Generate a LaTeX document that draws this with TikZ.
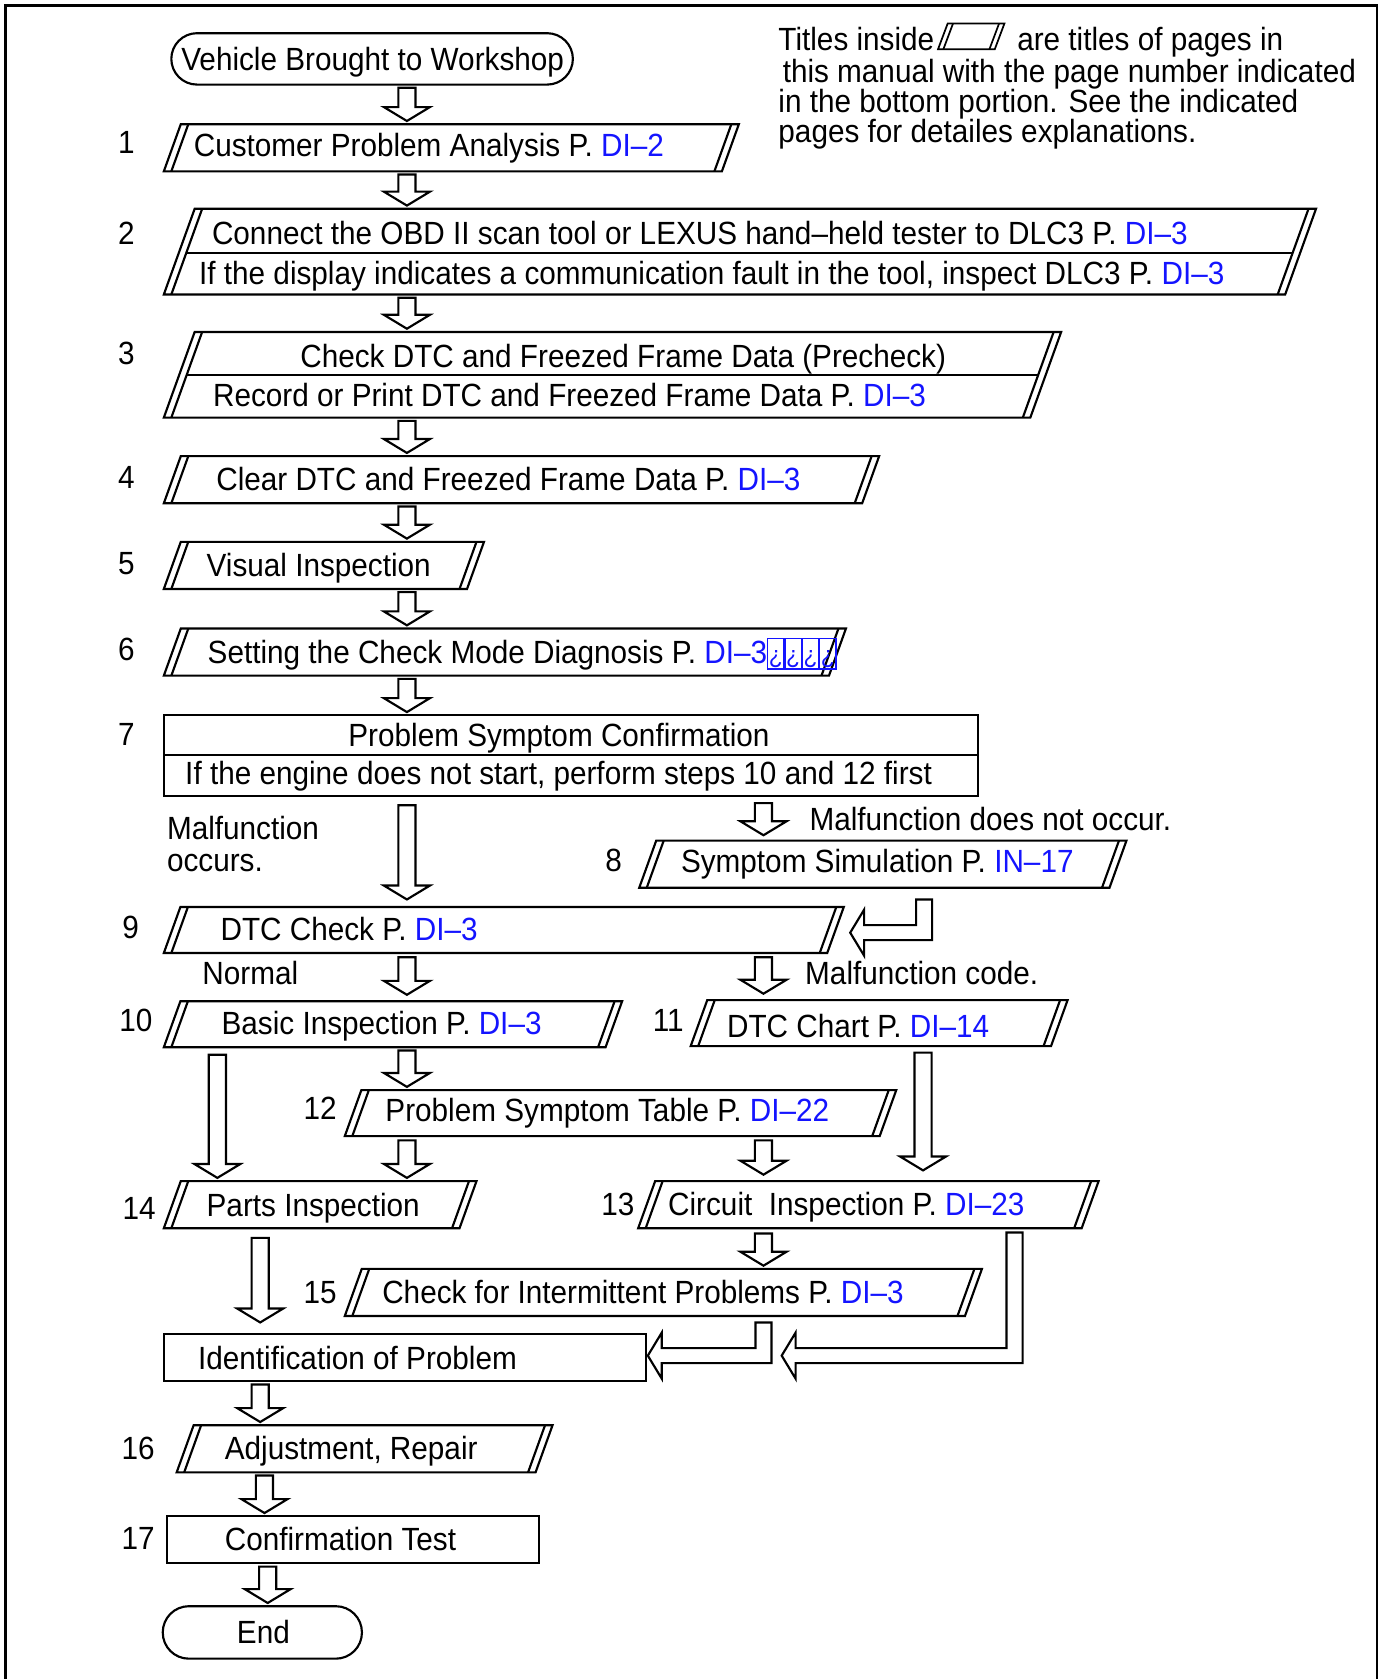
\documentclass[tikz,border=0pt]{standalone}
\usepackage{fontspec}
\setmainfont{Liberation Sans}[FakeStretch=0.925]
\usetikzlibrary{calc,fit}
\definecolor{refblue}{RGB}{20,20,255}
\tikzset{
  ln/.style={line width=1pt, line join=miter},
  thinln/.style={line width=0.8pt, line join=miter},
  framestyle/.style={line width=1.3pt},
  blk/.style={line width=1pt, fill=white, line join=miter},
  txt/.style={inner sep=0pt, outer sep=0pt, font=\fontsize{15}{18}\selectfont},
  area/.style={inner sep=0pt, outer sep=0pt},
}
\newcommand\rf[1]{\textcolor{refblue}{#1}}
\newcommand\tofu{{\fboxsep=0.3pt\fboxrule=0.5pt\fbox{\fontsize{11.5}{11.5}\selectfont\rule{0pt}{11pt}¿}}}
% parallelogram box with doubled slanted sides: name, x bottom-left, y top, x top-right, y bottom
\newcommand\pgbox[5]{%
  \node[area, fit={(#2,#3) (#4,#5)}] (#1) {};
  \pgfmathsetmacro\pgsl{0.36*(#5-#3)}%
  \draw[ln] (#2,#5) -- (#2+\pgsl,#3) -- (#4,#3) -- (#4-\pgsl,#5) -- cycle;
  \draw[ln] (#2+7,#5) -- (#2+\pgsl+7,#3);
  \draw[ln] (#4-7,#3) -- (#4-\pgsl-7,#5);
}
\newcommand\pgdiv[5]{%
  \pgfmathsetmacro\dxl{#1+0.36*(#4-#5)+7}%
  \pgfmathsetmacro\dxr{#3-0.36*(#5-#2)-7}%
  \draw[ln] (\dxl,#5) -- (\dxr,#5);
}
% hollow block arrow: x, from node, to node, top gap, bottom gap
\newcommand\harrow[5]{%
  \coordinate (hx) at (#1,0);
  \coordinate (at) at ($(hx |- #2.south)+(0,#4)$);
  \coordinate (ab) at ($(hx |- #3.north)-(0,#5)$);
  \draw[blk] ($(at)+(-8,0)$) -- ($(ab)+(-8,-13)$) -- ($(ab)+(-21.5,-13)$) -- (ab)
    -- ($(ab)+(21.5,-13)$) -- ($(ab)+(8,-13)$) -- ($(at)+(8,0)$) -- cycle;
}
% elbow block arrow: x of vertical, from node, top gap, y of horizontal, x of tip
\newcommand\helbow[5]{%
  \coordinate (hx) at (#1,0);
  \coordinate (et) at ($(hx |- #2.south)+(0,#3)$);
  \draw[blk] ($(et)+(-7.5,0)$) -- ($(et)+(7.5,0)$) -- (#1+7.5,#4+7) -- (#5+13,#4+7)
    -- (#5+13,#4+21.5) -- (#5,#4) -- (#5+13,#4-21.5) -- (#5+13,#4-7) -- (#1-7.5,#4-7) -- cycle;
}
\newcommand\tl[4]{\node[txt, anchor=base west] (#1) at (#2,#3+10.75) {#4};}
\newcommand\tc[4]{\node[txt, anchor=base] (#1) at (#2,#3+10.75) {#4};}
\begin{document}
\begin{tikzpicture}[x=0.5pt, y=-0.5pt]
\useasboundingbox (0,0) rectangle (1293,1568);
\draw[framestyle] (5,1568) -- (5,5) -- (1286,5) -- (1286,1568);

% note
\tl{n1a}{727}{36}{Titles inside}
\draw[thinln] (876,46) -- (885,22) -- (938,22) -- (929,46) -- cycle;
\draw[thinln] (881,46) -- (890,22);
\draw[thinln] (933,22) -- (924,46);
\tl{n1b}{950}{36}{are titles of pages in}
\tl{n2}{731}{66}{this manual with the page number indicated}
\tl{n3}{727}{94}{in the bottom portion. See the indicated}
\tl{n4}{727}{122}{pages for detailes explanations.}

% start
\node[area, fit={(160,31) (535,79)}, draw, line width=1pt, rounded corners=12pt] (start) {};
\tc{startT}{348}{55}{Vehicle Brought to Workshop}

% boxes
\pgbox{b1}{153}{116}{690}{160}
\tc{l1}{118}{133}{1}
\tl{b1T}{181}{135}{Customer Problem Analysis P. \rf{DI–2}}

\pgbox{b2}{153}{195}{1229}{275}
\pgdiv{153}{195}{1229}{275}{236}
\tc{l2}{118}{218}{2}
\tl{b2Ta}{198}{218}{Connect the OBD II scan tool or LEXUS hand–held tester to DLC3 P. \rf{DI–3}}
\tl{b2Tb}{186}{255}{If the display indicates a communication fault in the tool, inspect DLC3 P. \rf{DI–3}}

\pgbox{b3}{153}{310}{991}{390}
\pgdiv{153}{310}{991}{390}{350}
\tc{l3}{118}{330}{3}
\tc{b3Ta}{582}{332}{Check DTC and Freezed Frame Data (Precheck)}
\tl{b3Tb}{199}{369}{Record or Print DTC and Freezed Frame Data P. \rf{DI–3}}

\pgbox{b4}{153}{426}{821}{470}
\tc{l4}{118}{445}{4}
\tl{b4T}{202}{447}{Clear DTC and Freezed Frame Data P. \rf{DI–3}}

\pgbox{b5}{153}{506}{452}{550}
\tc{l5}{118}{526}{5}
\tl{b5T}{193}{528}{Visual Inspection}

\pgbox{b6}{153}{587}{790}{631}
\tc{l6}{118}{606}{6}
\tl{b6T}{194}{609}{Setting the Check Mode Diagnosis P. \rf{DI–3\tofu\tofu\tofu\tofu}}

\node[area, fit={(153,668) (913,743)}, draw, line width=1pt] (b7) {};
\draw[ln] (153,705) -- (913,705);
\tc{l7}{118}{685}{7}
\tc{b7Ta}{522}{686}{Problem Symptom Confirmation}
\tl{b7Tb}{173}{722}{If the engine does not start, perform steps 10 and 12 first}

\tl{mo1}{156}{773}{Malfunction}
\tl{mo2}{156}{803}{occurs.}
\tl{mno}{756}{765}{Malfunction does not occur.}

\pgbox{b8}{597}{785}{1052}{829}
\tc{l8}{573}{803}{8}
\tl{b8T}{636}{804}{Symptom Simulation P. \rf{IN–17}}

\pgbox{b9}{153}{847}{788}{890}
\tc{l9}{122}{866}{9}
\tl{b9T}{206}{868}{DTC Check P. \rf{DI–3}}

\tl{nrm}{189}{909}{Normal}
\tl{mfc}{752}{909}{Malfunction code.}

\pgbox{b10}{153}{935}{581}{978}
\tc{l10}{127}{953}{10}
\tl{b10T}{207}{955}{Basic Inspection P. \rf{DI–3}}

\pgbox{b11}{645}{934}{997}{977}
\tc{l11}{624}{953}{11}
\tl{b11T}{679}{958}{DTC Chart P. \rf{DI–14}}

\pgbox{b12}{322}{1018}{837}{1061}
\tc{l12}{299}{1035}{12}
\tl{b12T}{360}{1037}{Problem Symptom Table P. \rf{DI–22}}

\pgbox{b14}{153}{1103}{445}{1147}
\tc{l14}{130}{1128}{14}
\tl{b14T}{193}{1125}{Parts Inspection}

\pgbox{b13}{596}{1103}{1026}{1147}
\tc{l13}{577}{1124}{13}
\tl{b13T}{624}{1124}{Circuit\ \ Inspection P. \rf{DI–23}}

\pgbox{b15}{322}{1185}{917}{1229}
\tc{l15}{299}{1207}{15}
\tl{b15T}{357}{1207}{Check for Intermittent Problems P. \rf{DI–3}}

\node[area, fit={(153,1246) (603,1290)}, draw, line width=1pt] (ident) {};
\tl{identT}{185}{1268}{Identification of Problem}

\pgbox{b16}{165}{1331}{516}{1375}
\tc{l16}{129}{1352}{16}
\tl{b16T}{210}{1352}{Adjustment, Repair}

\node[area, fit={(156,1416) (503,1460)}, draw, line width=1pt] (b17) {};
\tc{l17}{129}{1436}{17}
\tl{b17T}{210}{1437}{Confirmation Test}

\node[area, fit={(152,1500) (338,1549)}, draw, line width=1pt, rounded corners=12.2pt] (endn) {};
\tc{endT}{246}{1524}{End}

% arrows
\harrow{380}{start}{b1}{3}{3}
\harrow{380}{b1}{b2}{3}{3}
\harrow{380}{b2}{b3}{3}{3}
\harrow{380}{b3}{b4}{3}{3}
\harrow{380}{b4}{b5}{3}{3}
\harrow{380}{b5}{b6}{3}{3}
\harrow{380}{b6}{b7}{3}{3}
\harrow{380}{b7}{b9}{9}{7}
\harrow{713}{b7}{b8}{7}{5}
\harrow{380}{b9}{b10}{4}{6}
\harrow{713}{b9}{b11}{4}{6}
\harrow{203}{b10}{b14}{7}{3}
\harrow{380}{b10}{b12}{3}{3}
\harrow{862}{b11}{b13}{6}{10}
\harrow{380}{b12}{b14}{4}{3}
\harrow{713}{b12}{b13}{4}{6}
\harrow{243}{b14}{ident}{9}{11}
\harrow{713}{b13}{b15}{5}{3}
\harrow{243}{ident}{b16}{3}{3}
\harrow{247}{b16}{b17}{3}{3}
\harrow{250}{b17}{endn}{3}{3}
\helbow{863}{b8}{11}{871}{794}
\helbow{947.5}{b13}{4}{1266}{730}
\helbow{713}{b15}{6}{1266}{605}
\end{tikzpicture}
\end{document}
